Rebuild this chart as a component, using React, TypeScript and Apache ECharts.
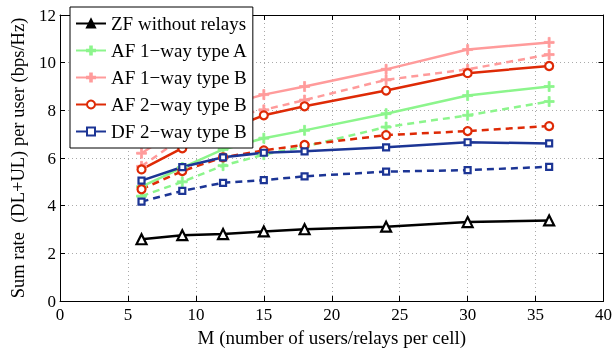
import React, { useEffect, useRef } from "react";
import * as echarts from "echarts";

const xValues = [6, 9, 12, 15, 18, 24, 30, 36];
const zf = [2.59, 2.76, 2.81, 2.92, 3.01, 3.12, 3.31, 3.38];
const af1aSolid = [4.8, 5.6, 6.36, 6.83, 7.16, 7.86, 8.62, 9.0];
const af1aDashed = [4.4, 5.0, 5.68, 6.14, 6.48, 7.3, 7.79, 8.37];
const af1bSolid = [6.2, 7.3, 8.2, 8.66, 9.0, 9.72, 10.55, 10.85];
const af1bDashed = [5.65, 6.85, 7.68, 8.02, 8.43, 9.28, 9.72, 10.34];
const af2bSolid = [5.52, 6.41, 7.14, 7.79, 8.17, 8.83, 9.56, 9.86];
const af2bDashed = [4.69, 5.45, 6.03, 6.32, 6.55, 6.96, 7.13, 7.34];
const dfSolid = [5.05, 5.62, 6.03, 6.22, 6.28, 6.45, 6.66, 6.61];
const dfDashed = [4.17, 4.62, 4.96, 5.07, 5.23, 5.43, 5.49, 5.63];
const legendNames = [
  "ZF without relays",
  "AF 1\u2212way type A",
  "AF 1\u2212way type B",
  "AF 2\u2212way type B",
  "DF 2\u2212way type B",
];

const FONT = "'Liberation Serif', 'DejaVu Serif', serif";
const PLUS = "path://M4,0 L6,0 L6,4 L10,4 L10,6 L6,6 L6,10 L4,10 L4,6 L0,6 L0,4 L4,4 Z";

const GREEN = "#8cf58c";
const PINK = "#ff9b9b";
const RED = "#de2a06";
const BLUE = "#1c3595";

function pairs(vals: number[]) {
  return xValues.map((x, i) => [x, vals[i]]);
}

export default function App() {
  const ref = useRef<HTMLDivElement>(null);
  useEffect(() => {
    if (!ref.current) return;
    const chart = echarts.init(ref.current, null, { renderer: "svg" });
    const mk = (
      name: string,
      vals: number[],
      color: string,
      dashed: boolean,
      symbol: string,
      size: number,
      hollow: boolean
    ) => ({
      name,
      type: "line",
      data: pairs(vals),
      symbol,
      symbolSize: size,
      showSymbol: true,
      lineStyle: { color, width: 2.5, type: dashed ? [7, 5] : "solid" },
      itemStyle: hollow
        ? { color: "#ffffff", borderColor: color, borderWidth: 2.2 }
        : { color, borderColor: color, borderWidth: 0.8 },
      emphasis: { disabled: true },
      z: 2,
    });
    const axisCommon = {
      min: 0,
      axisLine: { show: true, onZero: false, lineStyle: { color: "#000", width: 1 } },
      axisTick: { show: true, inside: true, length: 5, lineStyle: { color: "#000" } },
    };
    chart.setOption({
      animation: false,
      textStyle: { fontFamily: FONT },
      grid: { left: 53, right: 10, top: 15, bottom: 47, containLabel: false },
      legend: {
        data: legendNames.map((n, i) =>
          i === 0 ? { name: n, itemStyle: { color: "#000" } } : { name: n }
        ),
        orient: "vertical",
        left: 70,
        top: 7,
        backgroundColor: "#ffffff",
        borderColor: "#000",
        borderWidth: 1,
        padding: [7, 5, 7, 5],
        itemGap: 8,
        itemWidth: 30,
        itemHeight: 10,
        textStyle: { fontFamily: FONT, fontSize: 19, color: "#000" },
        z: 10,
      },
      xAxis: [
        {
          ...axisCommon,
          type: "value",
          max: 40,
          interval: 5,
          position: "bottom",
          name: "M (number of users/relays per cell)",
          nameLocation: "middle",
          nameGap: 27,
          nameTextStyle: { fontFamily: FONT, fontSize: 19, color: "#000" },
          axisLabel: { fontFamily: FONT, fontSize: 17, color: "#000", margin: 5 },
          splitLine: { show: true, lineStyle: { color: "#aaa", type: [1, 3], width: 1 } },
        },
        {
          ...axisCommon,
          type: "value",
          max: 40,
          interval: 5,
          position: "top",
          axisLabel: { show: false },
          splitLine: { show: false },
        },
      ],
      yAxis: [
        {
          ...axisCommon,
          type: "value",
          max: 12,
          interval: 2,
          position: "left",
          name: "Sum rate  (DL+UL) per user (bps/Hz)",
          nameLocation: "middle",
          nameGap: 33,
          nameTextStyle: { fontFamily: FONT, fontSize: 18.5, color: "#000" },
          axisLabel: { fontFamily: FONT, fontSize: 17, color: "#000", margin: 4 },
          splitLine: { show: true, lineStyle: { color: "#aaa", type: [1, 3], width: 1 } },
        },
        {
          ...axisCommon,
          type: "value",
          max: 12,
          interval: 2,
          position: "right",
          axisLabel: { show: false },
          splitLine: { show: false },
        },
      ],
      series: [
        mk(legendNames[0], zf, "#000000", false, "triangle", 10, true),
        mk(legendNames[1], af1aSolid, GREEN, false, PLUS, 10, false),
        mk("AF1A dashed", af1aDashed, GREEN, true, PLUS, 10, false),
        mk(legendNames[2], af1bSolid, PINK, false, PLUS, 10, false),
        mk("AF1B dashed", af1bDashed, PINK, true, PLUS, 10, false),
        mk(legendNames[3], af2bSolid, RED, false, "circle", 8, true),
        mk("AF2B dashed", af2bDashed, RED, true, "circle", 8, true),
        mk(legendNames[4], dfSolid, BLUE, false, "rect", 6, true),
        mk("DF dashed", dfDashed, BLUE, true, "rect", 6, true),
      ],
    });
    return () => chart.dispose();
  }, []);
  return (
    <div
      ref={ref}
      style={{ position: "fixed", left: 0, top: 0, width: 615, height: 352 }}
    />
  );
}
